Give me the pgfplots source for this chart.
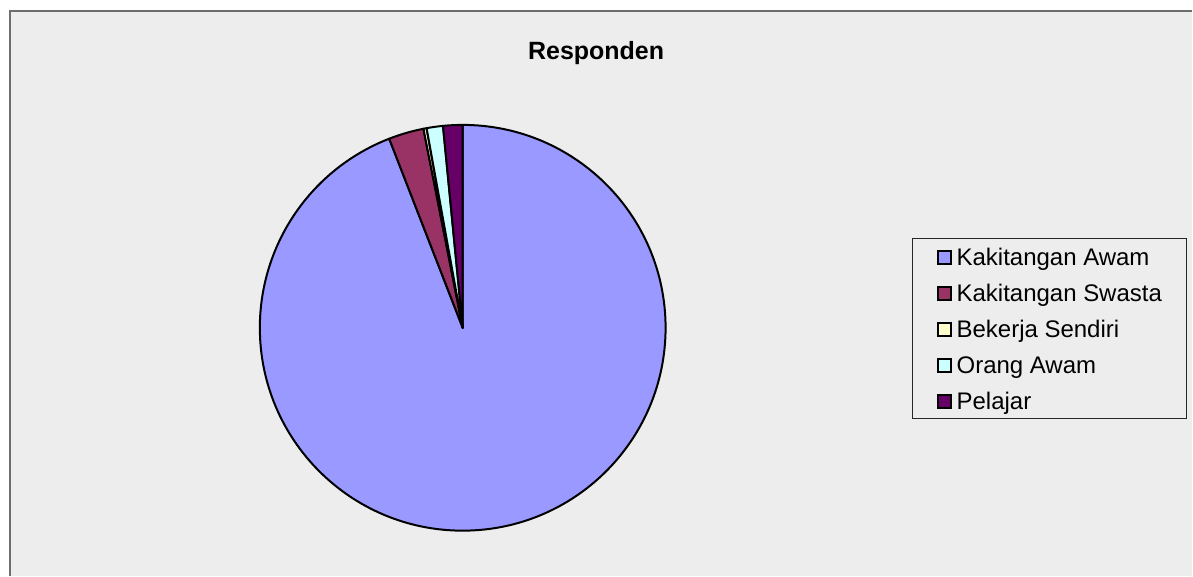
\documentclass[border=0pt]{standalone}
\usepackage{pgfplots}
\pgfplotsset{compat=1.18}
\usepackage{pgfplotstable}
\usepackage{fontspec}
\setmainfont{Liberation Sans}

\definecolor{cA}{HTML}{9999FF}
\definecolor{cB}{HTML}{993366}
\definecolor{cC}{HTML}{FFFFCC}
\definecolor{cD}{HTML}{CCFFFF}
\definecolor{cE}{HTML}{660066}
\definecolor{bg}{HTML}{EDEDED}
\definecolor{frame}{HTML}{6E6E6E}

\pgfplotstableread[col sep=comma]{
label,value
Kakitangan Awam,94.1
Kakitangan Swasta,2.8
Bekerja Sendiri,0.25
Orang Awam,1.3
Pelajar,1.55
}\piedata

\pgfplotstablegetelem{0}{value}\of\piedata\let\vA\pgfplotsretval
\pgfplotstablegetelem{1}{value}\of\piedata\let\vB\pgfplotsretval
\pgfplotstablegetelem{2}{value}\of\piedata\let\vC\pgfplotsretval
\pgfplotstablegetelem{3}{value}\of\piedata\let\vD\pgfplotsretval
\pgfplotstablegetelem{4}{value}\of\piedata\let\vE\pgfplotsretval
\pgfmathsetmacro\tot{\vA+\vB+\vC+\vD+\vE}
\pgfmathsetmacro\aA{90}
\pgfmathsetmacro\aB{\aA-360*(\vA/\tot)}
\pgfmathsetmacro\aC{\aB-360*(\vB/\tot)}
\pgfmathsetmacro\aD{\aC-360*(\vC/\tot)}
\pgfmathsetmacro\aE{\aD-360*(\vD/\tot)}
\pgfmathsetmacro\aF{\aE-360*(\vE/\tot)}

\begin{document}
\begin{tikzpicture}
\begin{axis}[
  x=1pt, y=1pt,
  xmin=0, xmax=1193, ymin=0, ymax=576,
  scale only axis, hide axis, clip=false,
]
% page and chart area
\fill[white] (axis cs:0,0) rectangle (axis cs:1193,576);
\fill[bg] (axis cs:10,0) rectangle (axis cs:1193,565);
\draw[frame, line width=2pt] (axis cs:10,0) -- (axis cs:10,565);
\draw[frame, line width=1.5pt] (axis cs:9,565) -- (axis cs:1193,565);

% title
\node[anchor=base, font=\bfseries\fontsize{25}{30}\selectfont] at (axis cs:596.5,516) {Responden};

% pie slices
\filldraw[fill=cA, draw=black, line width=2pt, line join=round] (axis cs:463,248) -- ++(\aA:203pt) arc[start angle=\aA, end angle=\aB, radius=203pt] -- cycle;
\filldraw[fill=cB, draw=black, line width=2pt, line join=round] (axis cs:463,248) -- ++(\aB:203pt) arc[start angle=\aB, end angle=\aC, radius=203pt] -- cycle;
\filldraw[fill=cC, draw=black, line width=2pt, line join=round] (axis cs:463,248) -- ++(\aC:203pt) arc[start angle=\aC, end angle=\aD, radius=203pt] -- cycle;
\filldraw[fill=cD, draw=black, line width=2pt, line join=round] (axis cs:463,248) -- ++(\aD:203pt) arc[start angle=\aD, end angle=\aE, radius=203pt] -- cycle;
\filldraw[fill=cE, draw=black, line width=2pt, line join=round] (axis cs:463,248) -- ++(\aE:203pt) arc[start angle=\aE, end angle=\aF, radius=203pt] -- cycle;

% legend
\draw[black!85, line width=1pt] (axis cs:913,337) rectangle (axis cs:1187,157);
\draw[fill=cA, line width=2pt] (axis cs:938.5,311.5) rectangle (axis cs:951.5,324.5);
\draw[fill=cB, line width=2pt] (axis cs:938.5,275.5) rectangle (axis cs:951.5,288.5);
\draw[fill=cC, line width=2pt] (axis cs:938.5,239.5) rectangle (axis cs:951.5,252.5);
\draw[fill=cD, line width=2pt] (axis cs:938.5,203.5) rectangle (axis cs:951.5,216.5);
\draw[fill=cE, line width=2pt] (axis cs:938.5,167.5) rectangle (axis cs:951.5,180.5);
\begin{scope}[every node/.style={anchor=base west, inner sep=0pt, font=\fontsize{24}{28}\selectfont}]
\node at (axis cs:957,310) {Kakitangan Awam};
\node at (axis cs:957,274) {Kakitangan Swasta};
\node at (axis cs:957,238) {Bekerja Sendiri};
\node at (axis cs:957,202) {Orang Awam};
\node at (axis cs:957,166) {Pelajar};
\end{scope}
\end{axis}
\end{tikzpicture}
\end{document}
